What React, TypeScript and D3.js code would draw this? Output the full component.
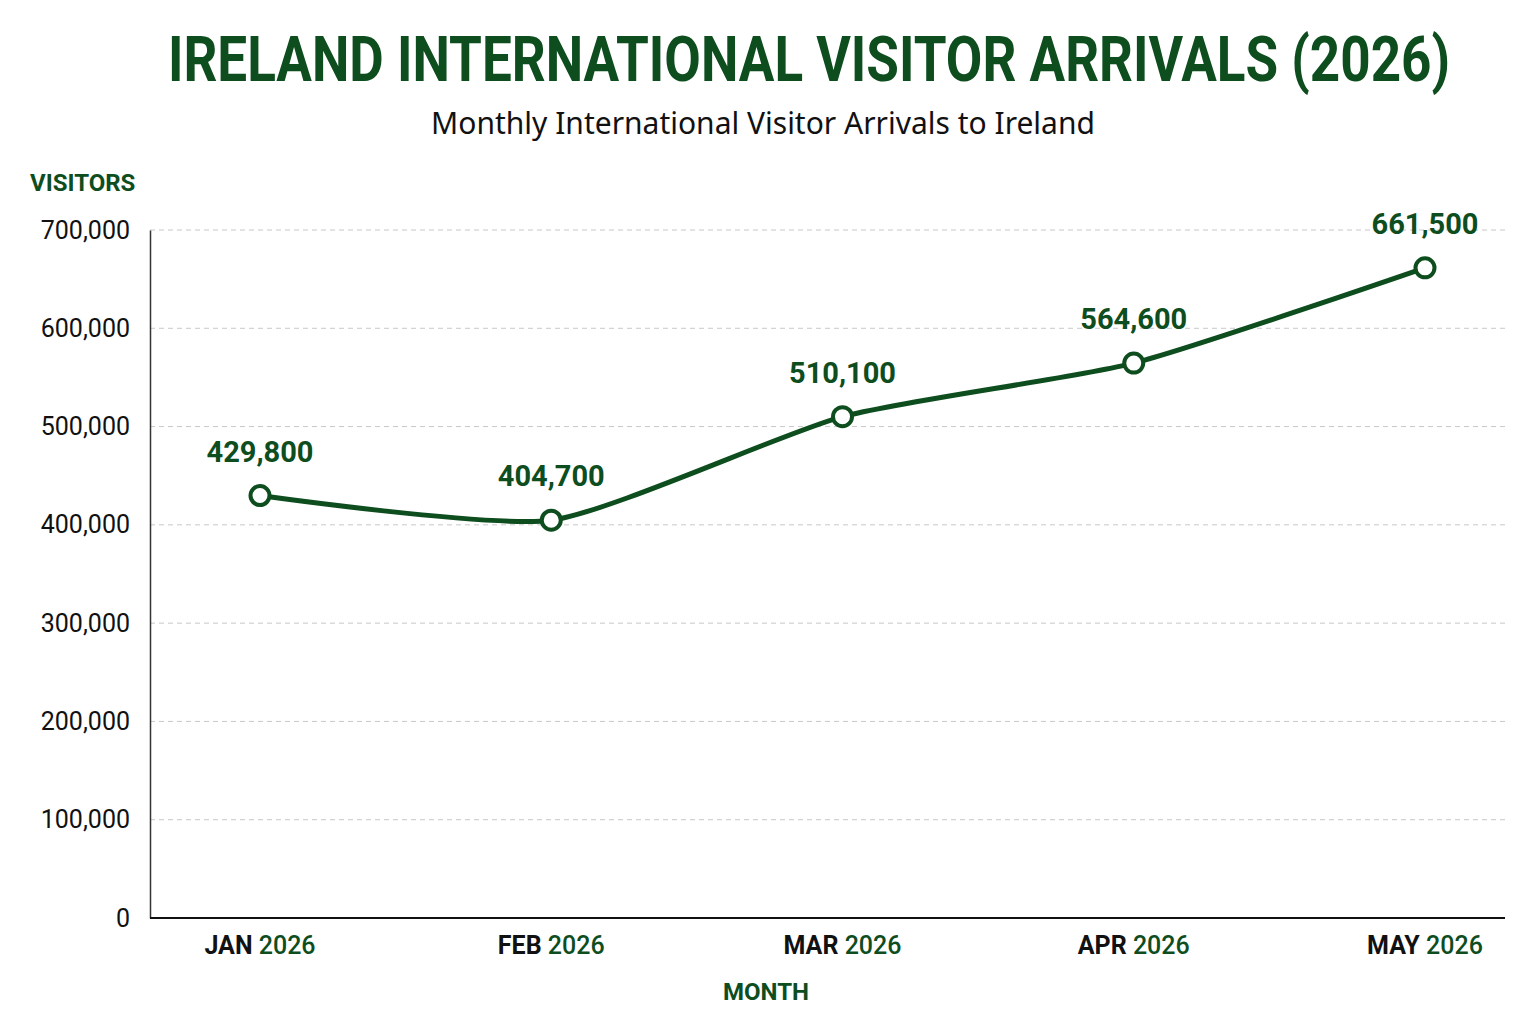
import * as d3 from 'd3';
import { useEffect, useRef } from 'react';

// Chart data
const months = ['JAN', 'FEB', 'MAR', 'APR', 'MAY'];
const years = ['2026', '2026', '2026', '2026', '2026'];
const visitors = [429800, 404700, 510100, 564600, 661500];
const yTicks = [0, 100000, 200000, 300000, 400000, 500000, 600000, 700000];

const GREEN = '#0d4d1e';
const NARROW = "'Roboto', 'Liberation Sans', sans-serif";
const SANS = "'Noto Sans', 'Open Sans', sans-serif";

const App = () => {
  const ref = useRef<SVGSVGElement>(null);

  useEffect(() => {
    const svg = d3.select(ref.current);
    svg.selectAll('*').remove();

    const width = 1536, height = 1024;
    const left = 150, right = 1505, top = 230, bottom = 918;

    svg.attr('width', width).attr('height', height);
    svg.append('rect').attr('width', width).attr('height', height).attr('fill', '#ffffff');

    const x = d3.scalePoint<string>().domain(months).range([left + 110, right - 80]);
    const y = d3.scaleLinear().domain([0, 700000]).range([bottom, top]);

    // Title (horizontally squeezed to look like a condensed face) and subtitle
    svg.append('g')
      .attr('transform', 'translate(809,81) scale(0.855,1)')
      .append('text')
      .attr('text-anchor', 'middle')
      .style('font-family', NARROW)
      .style('font-weight', 'bold')
      .style('font-size', '62px')
      .attr('fill', GREEN)
      .text('IRELAND INTERNATIONAL VISITOR ARRIVALS (2026)');

    svg.append('text')
      .attr('x', 763).attr('y', 134)
      .attr('text-anchor', 'middle')
      .style('font-family', SANS)
      .style('font-size', '30px')
      .attr('fill', '#111')
      .text('Monthly International Visitor Arrivals to Ireland');

    // Gridlines
    svg.append('g')
      .selectAll('line')
      .data(yTicks.filter(d => d > 0))
      .enter()
      .append('line')
      .attr('x1', left).attr('x2', right)
      .attr('y1', d => y(d)).attr('y2', d => y(d))
      .attr('stroke', '#c8c8c8')
      .attr('stroke-width', 1)
      .attr('stroke-dasharray', '5,4');

    // Y axis
    const yAxis = svg.append('g')
      .attr('transform', `translate(${left},0)`)
      .call(d3.axisLeft(y).tickValues(yTicks).tickSize(0).tickPadding(20).tickFormat(d => d3.format(',')(d as number)));
    yAxis.select('.domain').attr('stroke', '#333').attr('stroke-width', 1.5);
    yAxis.selectAll('text')
      .style('font-family', NARROW)
      .style('font-size', '25px')
      .attr('fill', '#111');

    // X axis baseline
    svg.append('line')
      .attr('x1', left).attr('x2', right)
      .attr('y1', bottom).attr('y2', bottom)
      .attr('stroke', '#111').attr('stroke-width', 2);

    // X tick labels: month in black, year in green
    const xl = svg.append('g')
      .selectAll('text')
      .data(months)
      .enter()
      .append('text')
      .attr('x', d => x(d)!)
      .attr('y', 954)
      .attr('text-anchor', 'middle')
      .style('font-family', NARROW)
      .style('font-size', '25px');
    xl.append('tspan').attr('fill', '#111').style('font-weight', 'bold').text(d => d);
    xl.append('tspan').attr('fill', GREEN).style('font-weight', '500').text((_, i) => ' ' + years[i]);

    // Axis titles
    svg.append('text')
      .attr('x', 30).attr('y', 191)
      .style('font-family', NARROW)
      .style('font-weight', 'bold')
      .style('font-size', '24px')
      .attr('fill', GREEN)
      .text('VISITORS');

    svg.append('text')
      .attr('x', 766).attr('y', 1000)
      .attr('text-anchor', 'middle')
      .style('font-family', NARROW)
      .style('font-weight', 'bold')
      .style('font-size', '24px')
      .attr('fill', GREEN)
      .text('MONTH');

    // Line
    const line = d3.line<number>()
      .x((_, i) => x(months[i])!)
      .y(d => y(d))
      .curve(d3.curveCardinal.tension(0.4));

    svg.append('path')
      .datum(visitors)
      .attr('d', line)
      .attr('fill', 'none')
      .attr('stroke', GREEN)
      .attr('stroke-width', 5)
      .attr('stroke-linecap', 'round');

    // Points
    svg.append('g')
      .selectAll('circle')
      .data(visitors)
      .enter()
      .append('circle')
      .attr('cx', (_, i) => x(months[i])!)
      .attr('cy', d => y(d))
      .attr('r', 9.5)
      .attr('fill', '#fff')
      .attr('stroke', GREEN)
      .attr('stroke-width', 4);

    // Value labels
    svg.append('g')
      .selectAll('text')
      .data(visitors)
      .enter()
      .append('text')
      .attr('x', (_, i) => x(months[i])!)
      .attr('y', d => y(d) - 34)
      .attr('text-anchor', 'middle')
      .style('font-family', NARROW)
      .style('font-weight', 'bold')
      .style('font-size', '29px')
      .attr('fill', GREEN)
      .text(d => d3.format(',')(d));
  }, []);

  return <svg ref={ref} style={{ position: 'absolute', left: 0, top: 0 }}></svg>;
};

export default App;
